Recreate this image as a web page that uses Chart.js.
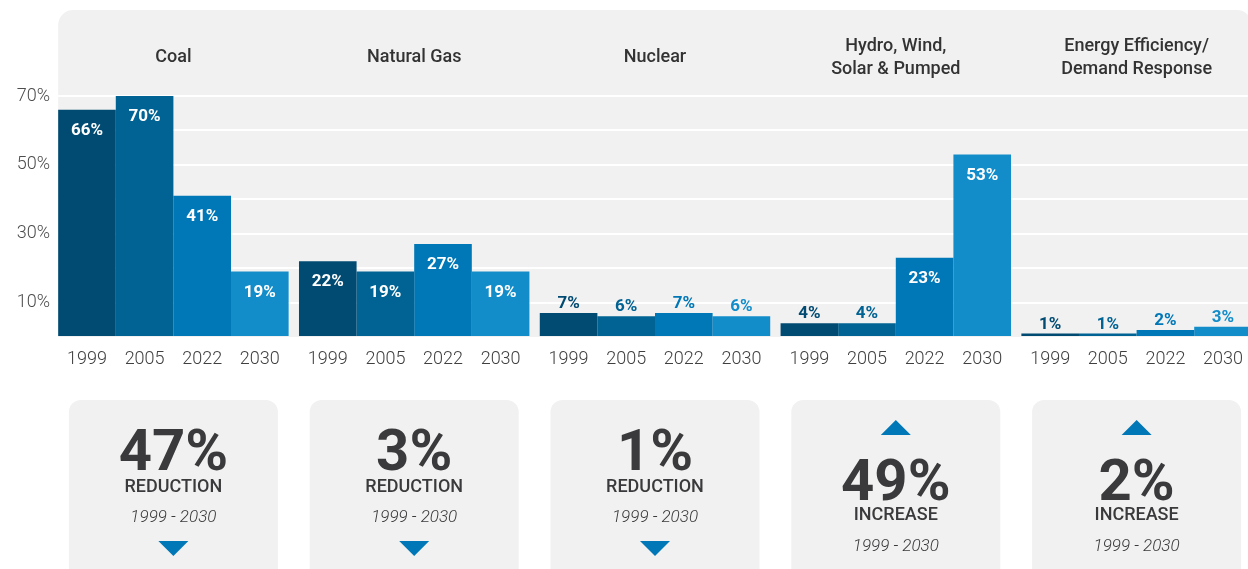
<!DOCTYPE html>
<html>
<head>
<meta charset="utf-8">
<script src="https://cdn.jsdelivr.net/npm/chart.js@4/dist/chart.umd.min.js"></script>
<style>
  html, body { margin: 0; padding: 0; background: #ffffff; overflow: hidden; }
  canvas { display: block; }
</style>
</head>
<body>
<canvas id="c" width="1260" height="569"></canvas>
<script>
// ---- data ----
const categories = [
  ['Coal'],
  ['Natural Gas'],
  ['Nuclear'],
  ['Hydro, Wind,', 'Solar & Pumped'],
  ['Energy Efficiency/', 'Demand Response']
];
const years = ['1999', '2005', '2022', '2030'];
const share1999 = [66, 22, 7, 4, 1];
const share2005 = [70, 19, 6, 4, 1];
const share2022 = [41, 27, 7, 23, 2];
const share2030 = [19, 19, 6, 53, 3];
const yTickValues = [10, 30, 50, 70];
const changeWords = { down: 'REDUCTION', up: 'INCREASE' };

const barColors = ['#014a71', '#006393', '#0077b6', '#128dca'];
const FONT = 'Roboto, "Open Sans", sans-serif';

const seriesList = [share1999, share2005, share2022, share2030];

function roundedPath(ctx, x, y, w, h, r) {
  const [tl, tr, br, bl] = r;
  ctx.beginPath();
  ctx.moveTo(x + tl, y);
  ctx.lineTo(x + w - tr, y);
  if (tr) ctx.arcTo(x + w, y, x + w, y + tr, tr); else ctx.lineTo(x + w, y);
  ctx.lineTo(x + w, y + h - br);
  if (br) ctx.arcTo(x + w, y + h, x + w - br, y + h, br); else ctx.lineTo(x + w, y + h);
  ctx.lineTo(x + bl, y + h);
  if (bl) ctx.arcTo(x, y + h, x, y + h - bl, bl); else ctx.lineTo(x, y + h);
  ctx.lineTo(x, y + tl);
  if (tl) ctx.arcTo(x, y, x + tl, y, tl); else ctx.lineTo(x, y);
  ctx.closePath();
}

const panelPlugin = {
  id: 'panel',
  beforeDraw(chart) {
    const { ctx, chartArea, scales: { y } } = chart;
    const first = chart.getDatasetMeta(0).data[0];
    const lastMeta = chart.getDatasetMeta(years.length - 1);
    const last = lastMeta.data[lastMeta.data.length - 1];
    const left = first.x - first.width / 2;
    const right = last.x + last.width / 2;
    const top = chartArea.top - 86;
    const bottom = y.getPixelForValue(0);
    ctx.save();
    ctx.fillStyle = '#f1f1f1';
    roundedPath(ctx, left, top, right - left, bottom - top, [15, 15, 0, 0]);
    ctx.fill();
    ctx.restore();
  },
  afterDatasetsDraw(chart) {
    const { ctx, chartArea, scales: { x, y } } = chart;
    const base = y.getPixelForValue(0);
    ctx.save();
    ctx.textAlign = 'center';
    ctx.textBaseline = 'alphabetic';

    // value labels + year labels
    years.forEach((yr, di) => {
      const meta = chart.getDatasetMeta(di);
      meta.data.forEach((bar, ci) => {
        const v = seriesList[di][ci];
        ctx.font = `bold 17px ${FONT}`;
        if (v >= 10) {
          ctx.fillStyle = '#ffffff';
          ctx.fillText(v + '%', bar.x, bar.y + 25);
        } else {
          ctx.fillStyle = barColors[di];
          ctx.fillText(v + '%', bar.x, bar.y - 5);
        }
        ctx.font = `300 18px ${FONT}`;
        ctx.fillStyle = '#404040';
        ctx.fillText(yr, bar.x, base + 27);
      });
    });

    // category titles
    ctx.font = `500 18px ${FONT}`;
    ctx.fillStyle = '#333333';
    categories.forEach((lines, ci) => {
      const cx = x.getPixelForValue(ci);
      const lh = 23;
      const mid = chartArea.top - 34;
      const start = mid - (lines.length - 1) * lh / 2;
      lines.forEach((ln, li) => ctx.fillText(ln, cx, start + li * lh));
    });

    // summary boxes
    categories.forEach((lines, ci) => {
      const cx = x.getPixelForValue(ci);
      const firstV = share1999[ci];
      const lastV = share2030[ci];
      const diff = lastV - firstV;
      const up = diff > 0;
      const bw = 209;
      const bt = base + 63;
      ctx.fillStyle = '#f1f1f1';
      roundedPath(ctx, cx - bw / 2, bt, bw, 220, [12, 12, 12, 12]);
      ctx.fill();

      let numBase, wordBase, rangeBase;
      ctx.fillStyle = '#0077b6';
      if (up) {
        const t0 = bt + 20;
        ctx.beginPath();
        ctx.moveTo(cx - 15, t0 + 15);
        ctx.lineTo(cx + 15, t0 + 15);
        ctx.lineTo(cx, t0);
        ctx.closePath();
        ctx.fill();
        numBase = bt + 100; wordBase = bt + 120; rangeBase = bt + 151;
      } else {
        numBase = bt + 70; wordBase = bt + 92; rangeBase = bt + 122;
        const t0 = bt + 141;
        ctx.beginPath();
        ctx.moveTo(cx - 15, t0);
        ctx.lineTo(cx + 15, t0);
        ctx.lineTo(cx, t0 + 15);
        ctx.closePath();
        ctx.fill();
      }
      ctx.fillStyle = '#3a3a3c';
      ctx.font = `bold 58px ${FONT}`;
      ctx.fillText(Math.abs(diff) + '%', cx, numBase);
      ctx.font = `500 18px ${FONT}`;
      ctx.fillText(up ? changeWords.up : changeWords.down, cx, wordBase);
      ctx.font = `italic 300 17px ${FONT}`;
      ctx.fillText(years[0] + ' - ' + years[years.length - 1], cx, rangeBase);
    });
    ctx.restore();
  }
};

new Chart(document.getElementById('c'), {
  type: 'bar',
  data: {
    labels: categories.map(l => l.join(' ')),
    datasets: years.map((yr, i) => ({
      label: yr,
      data: seriesList[i],
      backgroundColor: barColors[i],
      borderWidth: 0,
      barPercentage: 1,
      categoryPercentage: 0.957
    }))
  },
  options: {
    responsive: false,
    animation: false,
    devicePixelRatio: 1,
    layout: { padding: { top: 96, bottom: 232, left: 0, right: 3 } },
    plugins: { legend: { display: false }, tooltip: { enabled: false } },
    scales: {
      x: { display: false },
      y: {
        min: 0,
        max: 70,
        afterFit(scale) { scale.width = 53; },
        border: { display: false },
        grid: {
          drawTicks: false,
          lineWidth: 2,
          color: ctx => (ctx.tick && ctx.tick.value === 0) ? 'rgba(0,0,0,0)' : '#ffffff'
        },
        ticks: {
          stepSize: 10,
          padding: 3,
          color: '#4d4d4d',
          font: { family: FONT, size: 18, weight: '300' },
          callback: v => yTickValues.includes(v) ? v + '%' : ''
        }
      }
    }
  },
  plugins: [panelPlugin]
});
</script>
</body>
</html>
